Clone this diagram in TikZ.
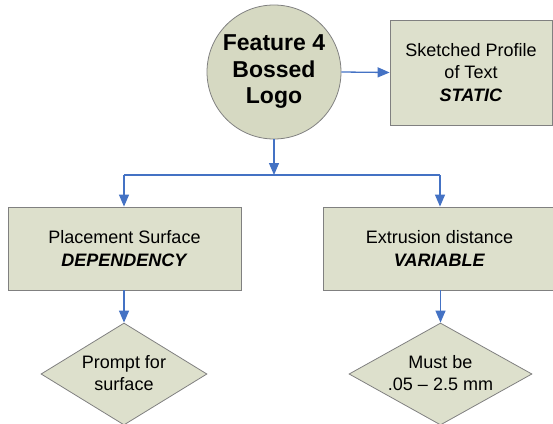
\documentclass[tikz,border=0pt]{standalone}
\usepackage{fontspec}
\setmainfont{Liberation Sans}
\usetikzlibrary{shapes.geometric,arrows.meta}
\definecolor{boxfill}{HTML}{DDE0CC}
\definecolor{circfill}{HTML}{D6D9C2}
\definecolor{edge}{HTML}{808080}
\definecolor{arrowblue}{HTML}{4472C4}
\tikzset{
  boxnode/.style={draw=edge, fill=boxfill, line width=0.8pt, inner sep=0pt, align=center, font=\fontsize{18}{22.5}\selectfont},
  decision/.style={diamond, draw=edge, fill=boxfill, line width=0.8pt, inner sep=0pt},
  dtext/.style={align=center, inner sep=0pt, font=\fontsize{18}{22.5}\selectfont},
  conn/.style={draw=arrowblue, line width=1.3pt, -{Triangle[length=12pt,width=10pt]}},
  plainconn/.style={draw=arrowblue, line width=1.3pt}
}
\begin{document}
\begin{tikzpicture}[x=1pt,y=-1pt]
\useasboundingbox (0,0) rectangle (553,423);
\clip (0,0) rectangle (553,423);
\node[circle, draw=edge, fill=circfill, line width=0.8pt, minimum size=134pt, inner sep=0pt, align=center, font=\fontsize{23}{26.5}\selectfont\bfseries] (feat) at (274,72) {Feature 4\\Bossed\\Logo};
\node[boxnode, minimum width=162pt, minimum height=105pt] (sketch) at (471,72.5) {Sketched Profile\\of Text\\\textbf{\textit{STATIC}}};
\node[boxnode, minimum width=233pt, minimum height=83pt] (place) at (124.5,248.5) {Placement Surface\\\textbf{\textit{DEPENDENCY}}};
\node[boxnode, minimum width=233pt, minimum height=83pt] (extr) at (439.5,248.5) {Extrusion distance\\\textbf{\textit{VARIABLE}}};
\node[decision, minimum width=166pt, minimum height=102pt] (prompt) at (124,374) {};
\node[dtext] (prompttext) at (124,373) {Prompt for\\surface};
\node[decision, minimum width=183pt, minimum height=102pt] (must) at (440.5,374) {};
\node[dtext] (musttext) at (440.5,373) {Must be\\.05 -- 2.5 mm};
\coordinate (split) at (274,175);
\coordinate (lefttop) at (124,175);
\coordinate (righttop) at (440,175);
\draw[conn] (feat.east) -- (sketch.west);
\draw[conn] (feat.south) -- (split);
\draw[plainconn] (lefttop) -- (righttop);
\draw[conn] (lefttop) -- (place.north -| lefttop);
\draw[conn] (righttop) -- (extr.north -| righttop);
\draw[conn] (place.south -| prompt.north) -- (prompt.north);
\draw[conn] (extr.south -| must.north) -- (must.north);
\end{tikzpicture}
\end{document}
